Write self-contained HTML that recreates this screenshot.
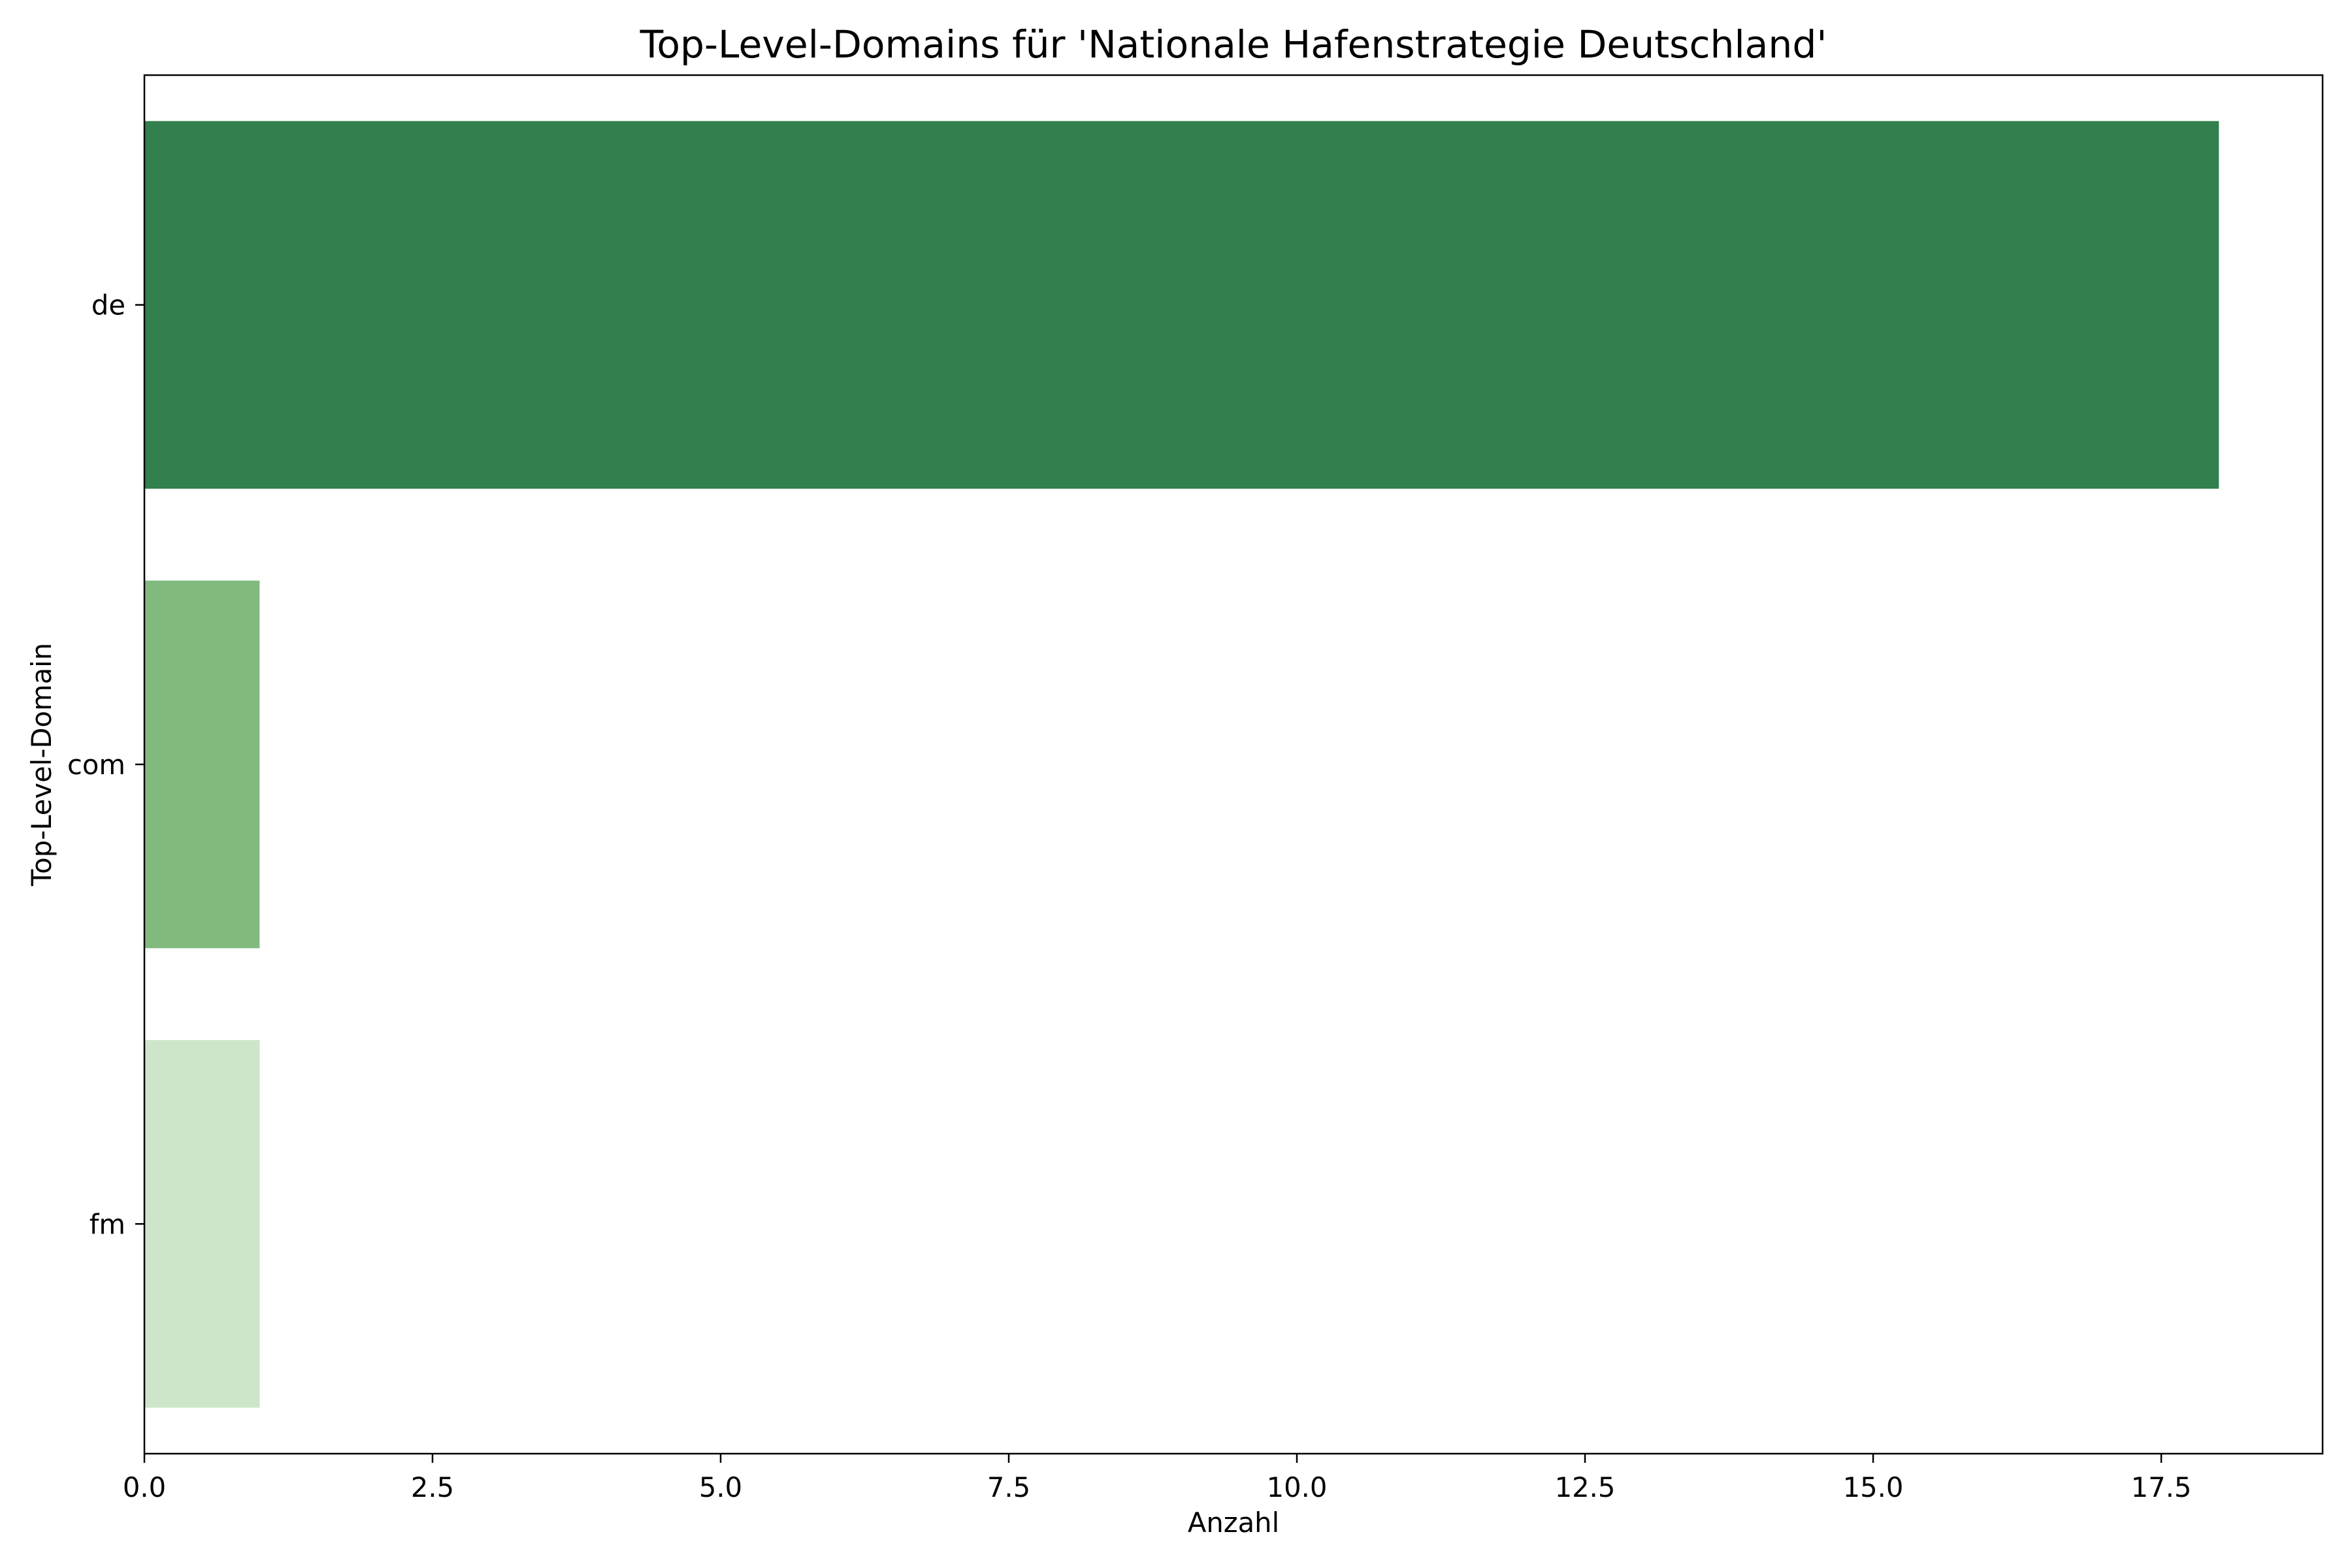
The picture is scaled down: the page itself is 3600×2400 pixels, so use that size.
<!DOCTYPE html>
<html><head><meta charset="utf-8"><style>
html,body{margin:0;padding:0;background:#fff}
svg{display:block;font-family:"DejaVu Sans","Liberation Sans",sans-serif}
</style></head><body>
<svg id="chart" width="3600" height="2400" viewBox="0 0 3600 2400" xmlns="http://www.w3.org/2000/svg">
<rect width="3600" height="2400" fill="#fff"/>
<text x="1888" y="88" font-size="58.3" text-anchor="middle">Top-Level-Domains für 'Nationale Hafenstrategie Deutschland'</text>
<g id="bars"></g>
<g id="xticks"></g>
<g id="yticks"></g>
<rect x="221" y="115" width="3334" height="2110" fill="none" stroke="#000" stroke-width="2.5"/>
<text x="1888" y="2345" font-size="41.7" text-anchor="middle">Anzahl</text>
<text transform="translate(78,1170) rotate(-90)" font-size="41.7" text-anchor="middle">Top-Level-Domain</text>
</svg>
<script>
const categories = ["de", "com", "fm"];
const values = [18, 1, 1];
const colors = ["#31804d", "#80ba7f", "#cde5c8"];
const xTicks = [0, 2.5, 5, 7.5, 10, 12.5, 15, 17.5];
const xTickLabels = ["0.0", "2.5", "5.0", "7.5", "10.0", "12.5", "15.0", "17.5"];

const L = 221, R = 3555, T = 115, B = 2225;
const xMax = Math.max(...values) * 1.05;
const xs = v => L + v / xMax * (R - L);
const band = (B - T) / categories.length;
const yc = i => T + band * (i + 0.5);
const NS = "http://www.w3.org/2000/svg";
function mk(tag, attrs, parent) {
  const e = document.createElementNS(NS, tag);
  for (const k in attrs) e.setAttribute(k, attrs[k]);
  parent.appendChild(e);
  return e;
}
const gb = document.getElementById('bars');
categories.forEach((c, i) => {
  const h = band * 0.8;
  const r = mk('rect', {x: xs(0), y: yc(i) - h / 2, width: xs(values[i]) - xs(0), height: h, fill: colors[i]}, gb);
  
  
});
const gx = document.getElementById('xticks');
xTicks.forEach((t, i) => {
  const g = mk('g', {}, gx);
  
  
  mk('line', {x1: xs(t), x2: xs(t), y1: B, y2: B + 14, stroke: '#000', 'stroke-width': 2.5}, g);
  const tx = mk('text', {x: xs(t), y: B + 66, 'font-size': 41.7, 'text-anchor': 'middle'}, g);
  tx.textContent = xTickLabels[i];
});
const gy = document.getElementById('yticks');
categories.forEach((c, i) => {
  const g = mk('g', {}, gy);
  
  
  mk('line', {x1: L - 14, x2: L, y1: yc(i), y2: yc(i), stroke: '#000', 'stroke-width': 2.5}, g);
  const tx = mk('text', {x: L - 29, y: yc(i) + 15, 'font-size': 41.7, 'text-anchor': 'end'}, g);
  tx.textContent = c;
});
</script>
</body></html>
